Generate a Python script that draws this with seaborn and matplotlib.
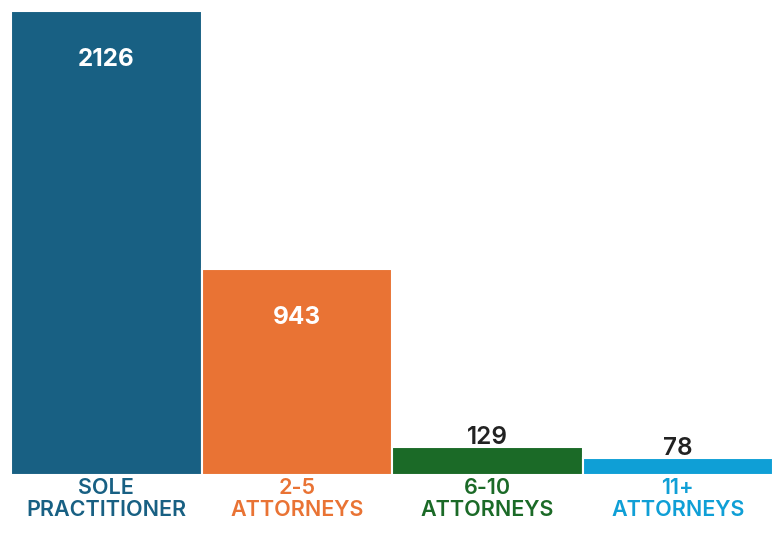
import matplotlib
matplotlib.use("Agg")
import matplotlib.pyplot as plt
import seaborn as sns
import pandas as pd

categories = ["SOLE\nPRACTITIONER", "2-5\nATTORNEYS", "6-10\nATTORNEYS", "11+\nATTORNEYS"]
values = [2126, 943, 129, 78]
colors = ["#186083", "#E97334", "#1B6A27", "#0F9FD6"]
label_inside = [True, True, False, False]

sns.set_theme(style="white")
plt.rcParams['font.family'] = ['Inter', 'DejaVu Sans']

df = pd.DataFrame({"cat": categories, "val": values})

fig = plt.figure(figsize=(7.84, 5.42), dpi=100)
ax = fig.add_axes([11/784, 67/542, 762/784, 464/542])
sns.barplot(data=df, x="cat", y="val", hue="cat", palette=colors, legend=False,
            width=1.0, edgecolor="white", linewidth=1.5, ax=ax, saturation=1)
ax.set_xlim(-0.5, 3.5)
ax.set_ylim(0, 2126)
ax.set_xlabel("")
ax.set_ylabel("")
ax.set_yticks([])
ax.set_xticks(range(len(categories)))
ax.set_xticklabels(categories, fontsize=15.5, fontweight="semibold", linespacing=1.12)
for t, c in zip(ax.get_xticklabels(), colors):
    t.set_color(c)
ax.tick_params(axis="x", length=0, pad=2)
for s in ax.spines.values():
    s.set_visible(False)

for i, (v, inside) in enumerate(zip(values, label_inside)):
    if inside:
        ax.annotate(str(v), (i, v), xytext=(0, -35), textcoords="offset points",
                    ha="center", va="center", color="white", fontsize=17.5, fontweight="bold")
    else:
        ax.annotate(str(v), (i, v), xytext=(0, 7), textcoords="offset points",
                    ha="center", va="center", color="#222222", fontsize=17.5, fontweight="semibold")

fig.savefig("out.png", dpi=100, facecolor="white")
